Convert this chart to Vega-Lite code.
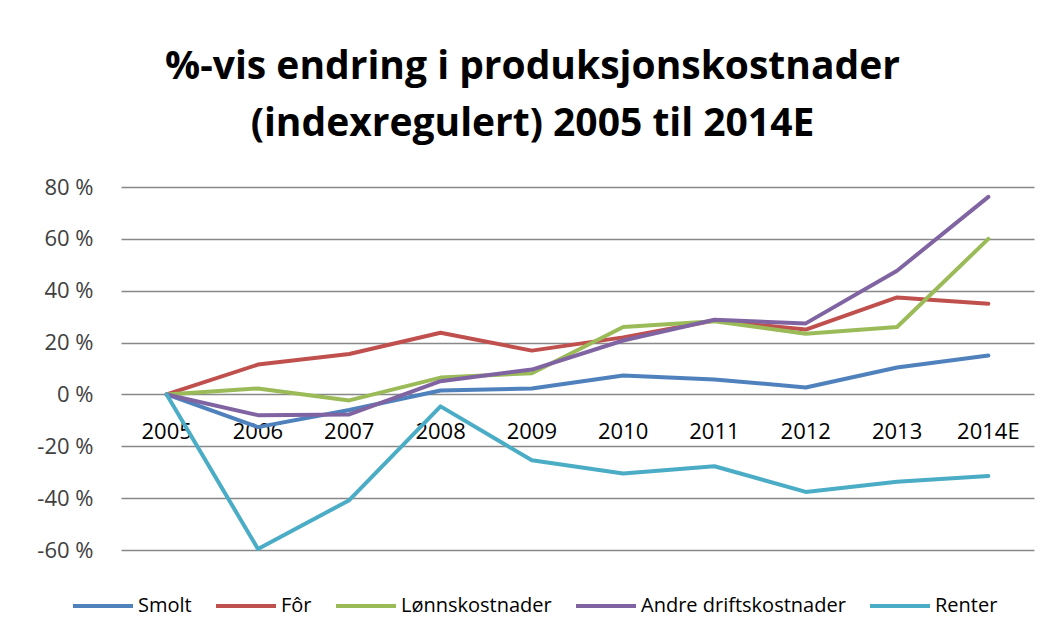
{
  "$schema": "https://vega.github.io/schema/vega-lite/v6.json",
  "width": 913,
  "height": 363,
  "autosize": "none",
  "padding": {"left": 121, "top": 187, "right": 20, "bottom": 90},
  "background": "white",
  "title": {
    "text": ["%-vis endring i produksjonskostnader", "(indexregulert) 2005 til 2014E"],
    "font": "Open Sans",
    "fontSize": 39,
    "fontWeight": "bold",
    "color": "#000000",
    "lineHeight": 57,
    "anchor": "middle",
    "dx": -45,
    "offset": 32
  },
  "data": {
    "values": [
      {"year": "2005", "serie": "Smolt", "endring": 0},
      {"year": "2006", "serie": "Smolt", "endring": -0.126},
      {"year": "2007", "serie": "Smolt", "endring": -0.06},
      {"year": "2008", "serie": "Smolt", "endring": 0.015},
      {"year": "2009", "serie": "Smolt", "endring": 0.023},
      {"year": "2010", "serie": "Smolt", "endring": 0.073},
      {"year": "2011", "serie": "Smolt", "endring": 0.058},
      {"year": "2012", "serie": "Smolt", "endring": 0.027},
      {"year": "2013", "serie": "Smolt", "endring": 0.104},
      {"year": "2014E", "serie": "Smolt", "endring": 0.15},
      {"year": "2005", "serie": "Fôr", "endring": 0},
      {"year": "2006", "serie": "Fôr", "endring": 0.115},
      {"year": "2007", "serie": "Fôr", "endring": 0.156},
      {"year": "2008", "serie": "Fôr", "endring": 0.238},
      {"year": "2009", "serie": "Fôr", "endring": 0.169},
      {"year": "2010", "serie": "Fôr", "endring": 0.22},
      {"year": "2011", "serie": "Fôr", "endring": 0.285},
      {"year": "2012", "serie": "Fôr", "endring": 0.25},
      {"year": "2013", "serie": "Fôr", "endring": 0.374},
      {"year": "2014E", "serie": "Fôr", "endring": 0.35},
      {"year": "2005", "serie": "Lønnskostnader", "endring": 0},
      {"year": "2006", "serie": "Lønnskostnader", "endring": 0.023},
      {"year": "2007", "serie": "Lønnskostnader", "endring": -0.023},
      {"year": "2008", "serie": "Lønnskostnader", "endring": 0.065},
      {"year": "2009", "serie": "Lønnskostnader", "endring": 0.082},
      {"year": "2010", "serie": "Lønnskostnader", "endring": 0.26},
      {"year": "2011", "serie": "Lønnskostnader", "endring": 0.282},
      {"year": "2012", "serie": "Lønnskostnader", "endring": 0.234},
      {"year": "2013", "serie": "Lønnskostnader", "endring": 0.26},
      {"year": "2014E", "serie": "Lønnskostnader", "endring": 0.6},
      {"year": "2005", "serie": "Andre driftskostnader", "endring": 0},
      {"year": "2006", "serie": "Andre driftskostnader", "endring": -0.08},
      {"year": "2007", "serie": "Andre driftskostnader", "endring": -0.077},
      {"year": "2008", "serie": "Andre driftskostnader", "endring": 0.051},
      {"year": "2009", "serie": "Andre driftskostnader", "endring": 0.096},
      {"year": "2010", "serie": "Andre driftskostnader", "endring": 0.208},
      {"year": "2011", "serie": "Andre driftskostnader", "endring": 0.288},
      {"year": "2012", "serie": "Andre driftskostnader", "endring": 0.274},
      {"year": "2013", "serie": "Andre driftskostnader", "endring": 0.477},
      {"year": "2014E", "serie": "Andre driftskostnader", "endring": 0.762},
      {"year": "2005", "serie": "Renter", "endring": 0},
      {"year": "2006", "serie": "Renter", "endring": -0.596},
      {"year": "2007", "serie": "Renter", "endring": -0.408},
      {"year": "2008", "serie": "Renter", "endring": -0.046},
      {"year": "2009", "serie": "Renter", "endring": -0.254},
      {"year": "2010", "serie": "Renter", "endring": -0.305},
      {"year": "2011", "serie": "Renter", "endring": -0.277},
      {"year": "2012", "serie": "Renter", "endring": -0.376},
      {"year": "2013", "serie": "Renter", "endring": -0.337},
      {"year": "2014E", "serie": "Renter", "endring": -0.315}
    ]
  },
  "mark": {"type": "line", "strokeWidth": 4, "strokeCap": "round", "strokeJoin": "round"},
  "encoding": {
    "x": {
      "field": "year",
      "type": "ordinal",
      "sort": null,
      "scale": {"type": "band", "paddingInner": 0, "paddingOuter": 0},
      "axis": {
        "title": null,
        "labelAngle": 0,
        "offset": -155.6,
        "domain": false,
        "ticks": false,
        "labelPadding": 27,
        "labelFont": "Open Sans",
        "labelFontSize": 22,
        "labelColor": "#000000",
        "grid": false
      }
    },
    "y": {
      "field": "endring",
      "type": "quantitative",
      "scale": {"domain": [-0.6, 0.8], "nice": false},
      "axis": {
        "title": null,
        "values": [-0.6, -0.4, -0.2, 0, 0.2, 0.4, 0.6, 0.8],
        "labelExpr": "(datum.value < -0.001 ? '-' : '') + format(abs(datum.value) * 100, 'd') + ' %'",
        "domain": false,
        "ticks": false,
        "labelPadding": 28,
        "labelFont": "Open Sans",
        "labelFontSize": 22,
        "labelColor": "#404040",
        "gridColor": "#888888",
        "gridWidth": 1.5,
        "gridOpacity": 1
      }
    },
    "color": {
      "field": "serie",
      "type": "nominal",
      "scale": {
        "domain": ["Smolt", "Fôr", "Lønnskostnader", "Andre driftskostnader", "Renter"],
        "range": ["#4F81BD", "#C0504D", "#9BBB59", "#8064A2", "#4BACC6"]
      },
      "legend": {
        "title": null,
        "orient": "none",
        "legendX": -50,
        "legendY": 387,
        "direction": "horizontal",
        "symbolType": "stroke",
        "symbolSize": 3600,
        "symbolStrokeWidth": 4,
        "labelFont": "Open Sans",
        "labelFontSize": 20,
        "labelLimit": 400,
        "labelColor": "#000000",
        "columnPadding": 16,
        "labelOffset": 3
      }
    }
  },
  "config": {"view": {"stroke": null}}
}
